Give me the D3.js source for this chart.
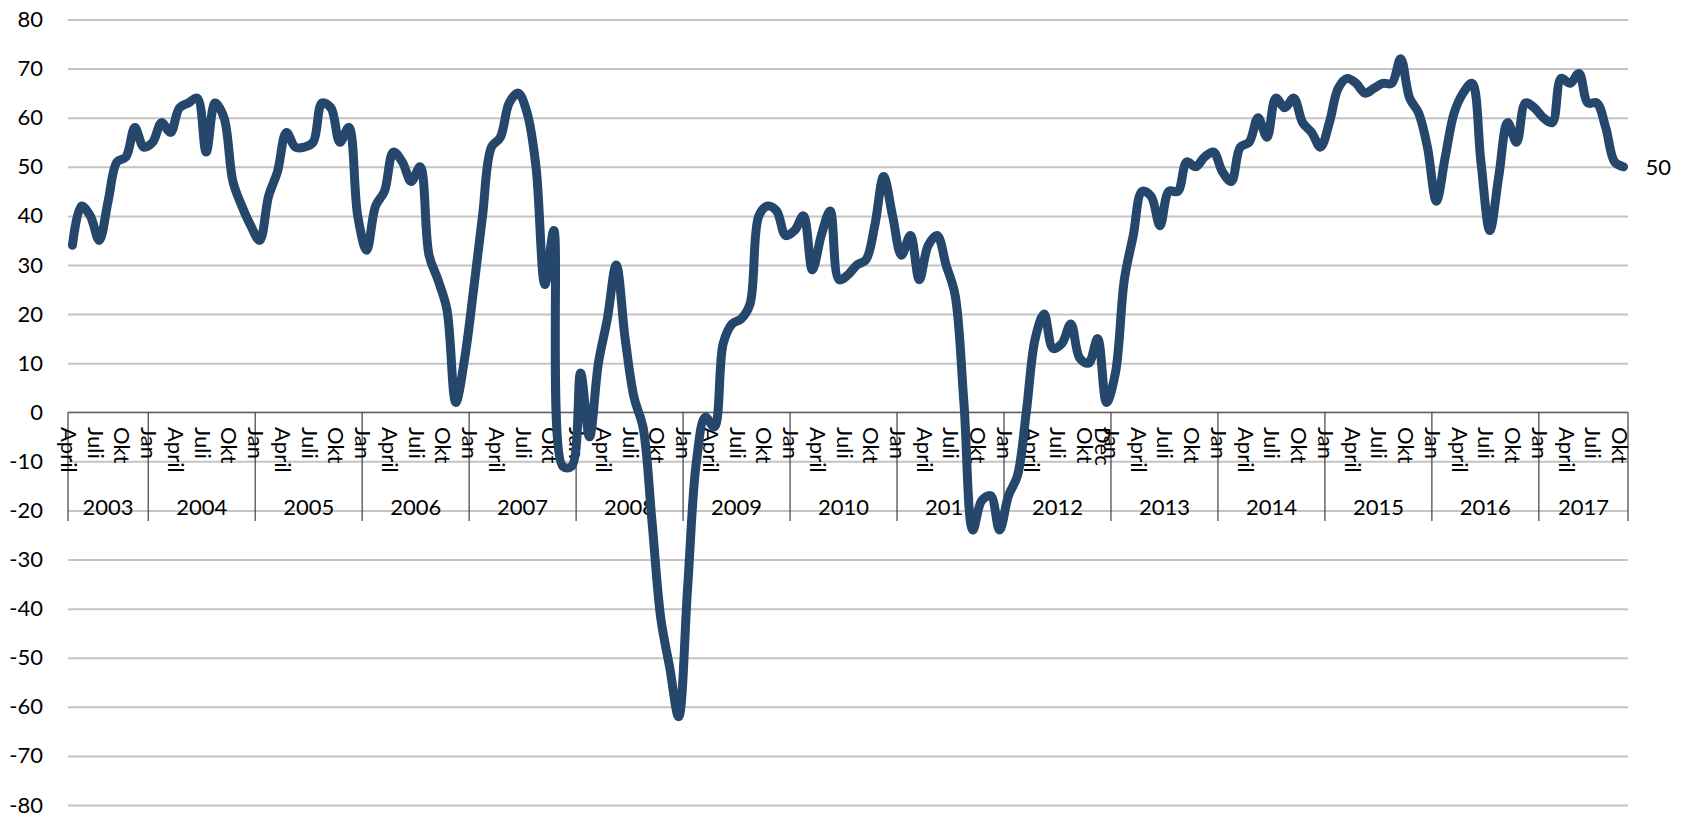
<!DOCTYPE html>
<html>
<head>
<meta charset="utf-8">
<title>Indicator 2003-2017</title>
<script src="https://cdn.jsdelivr.net/npm/d3@7/dist/d3.min.js"></script>
<style>
  html, body { margin: 0; padding: 0; background: #fff; }
  svg { display: block; }
  text { font-family: "Gill Sans", Lato, "DejaVu Sans", sans-serif; fill: #000; }
</style>
</head>
<body>
<script>
// ========== Chart data ==========
// Years on the category axis and how many months each one has.
var years = [2003, 2004, 2005, 2006, 2007, 2008, 2009, 2010, 2011, 2012, 2013, 2014, 2015, 2016, 2017];
var firstMonth = 3;   // April 2003 (0 = Jan)
var lastMonth = 9;    // Okt 2017
// Labels shown on the month row (by month number), plus the odd "Dec" in 2012.
var monthLabels = {0: "Jan", 3: "April", 6: "Juli", 9: "Okt"};
var extraLabels = [{year: 2012, month: 11, label: "Dec"}];
// Monthly values, April 2003 .. Okt 2017.
var values = [
  34, 42, 40, 35, 43, 51, 52, 58, 54,                     // 2003
  55, 59, 57, 62, 63, 64, 53, 63, 60, 47, 42, 38,         // 2004
  35, 44, 49, 57, 54, 54, 55, 63, 62, 55, 58, 40,         // 2005
  33, 42, 45, 53, 51, 47, 50, 32, 27, 21, 2, 11,          // 2006
  25, 40, 54, 56, 63, 65, 61, 50, 26, 37, -11, -11,       // 2007
  8, -5, 10, 19, 30, 15, 3, -3, -22, -42, -52, -62,       // 2008
  -36, -10, -1, -3, 14, 18, 19, 22, 40, 42, 41, 36,       // 2009
  37, 40, 29, 36, 41, 27, 28, 30, 31, 38, 48, 40,         // 2010
  32, 36, 27, 34, 36, 30, 24, 2, -24, -18, -17, -24,      // 2011
  -17, -13, 0, 15, 20, 13, 14, 18, 11, 10, 15, 2,         // 2012
  8, 27, 36, 45, 44, 38, 45, 45, 51, 50, 52, 53,          // 2013
  49, 47, 54, 55, 60, 56, 64, 62, 64, 59, 57, 54,         // 2014
  59, 66, 68, 67, 65, 66, 67, 67, 72, 64, 61, 54,         // 2015
  43, 52, 61, 65, 67, 51, 37, 48, 59, 55, 63, 62,         // 2016
  60, 59, 68, 67, 69, 63, 63, 58, 51, 50                  // 2017
];
var yTicks = d3.range(-80, 81, 10);
// ================================

var width = 1686, height = 818;
var margin = {left: 68, right: 58};
var plotWidth = width - margin.left - margin.right;

// Build the list of categories (one per month).
var categories = [];
years.forEach(function(yr, k) {
  var m0 = (k == 0) ? firstMonth : 0;
  var m1 = (k == years.length - 1) ? lastMonth : 11;
  for (var m = m0; m <= m1; m++)
  {
    var label = monthLabels[m] || "";
    extraLabels.forEach(function(e) { if (e.year == yr && e.month == m) label = e.label; });
    categories.push({year: yr, month: m, label: label, index: categories.length});
  }
});

var x = d3.scaleBand()
  .domain(categories.map(function(c) { return c.index; }))
  .range([margin.left, margin.left + plotWidth])
  .padding(0);
var y = d3.scaleLinear().domain([-80, 80]).range([805, 19.5]);

var svg = d3.select("body").append("svg")
  .attr("width", width)
  .attr("height", height);

// Gridlines and value labels.
var yAxis = svg.append("g")
  .attr("transform", "translate(" + margin.left + ",0)")
  .call(d3.axisLeft(y)
    .tickValues(yTicks)
    .tickSizeInner(-plotWidth)
    .tickSizeOuter(0)
    .tickPadding(25)
    .tickFormat(function(d) { return String(d); }));
yAxis.select(".domain").remove();
yAxis.selectAll("line").attr("stroke", "#c4c4c4").attr("stroke-width", 2);
yAxis.selectAll("text").style("font-size", "22px");

// Category axis at zero.
var y0 = y(0);
var sepBottom = 521;
svg.append("line")
  .attr("x1", margin.left).attr("x2", margin.left + plotWidth)
  .attr("y1", y0).attr("y2", y0)
  .attr("stroke", "#404040").attr("stroke-width", 1.2);

// Year groups: separators and labels.
var groups = years.map(function(yr) {
  var cats = categories.filter(function(c) { return c.year == yr; });
  var start = x(cats[0].index);
  var end = x(cats[cats.length - 1].index) + x.bandwidth();
  return {year: yr, start: start, end: end};
});
var bounds = groups.map(function(g) { return g.start; });
bounds.push(groups[groups.length - 1].end);

svg.selectAll(".sep")
  .data(bounds)
  .enter().append("line")
  .attr("class", "sep")
  .attr("x1", function(d) { return d; })
  .attr("x2", function(d) { return d; })
  .attr("y1", y0).attr("y2", sepBottom)
  .attr("stroke", "#404040").attr("stroke-width", 1.2);

svg.selectAll(".year")
  .data(groups)
  .enter().append("text")
  .attr("class", "year")
  .attr("x", function(d) { return (d.start + d.end) / 2; })
  .attr("y", 506)
  .attr("text-anchor", "middle")
  .attr("dominant-baseline", "central")
  .style("font-size", "22px")
  .text(function(d) { return d.year; });

// Month labels, rotated to read top to bottom.
svg.selectAll(".month")
  .data(categories.filter(function(c) { return c.label != ""; }))
  .enter().append("text")
  .attr("class", "month")
  .attr("transform", function(d) {
    var cx = x(d.index) + x.bandwidth() / 2 - 3;
    return "translate(" + cx + ",427) rotate(90)";
  })
  .attr("text-anchor", "start")
  .attr("dominant-baseline", "central")
  .style("font-size", "22px")
  .text(function(d) { return d.label; });

// The series line.
var line = d3.line()
  .x(function(d, i) { return x(i) + x.bandwidth() / 2; })
  .y(function(d) { return y(d); })
  .curve(d3.curveCatmullRom.alpha(0.5));

svg.append("path")
  .datum(values)
  .attr("fill", "none")
  .attr("stroke", "#24476b")
  .attr("stroke-width", 9)
  .attr("stroke-linecap", "round")
  .attr("stroke-linejoin", "round")
  .attr("d", line);

// Label for the last value.
var lastIdx = values.length - 1;
svg.append("text")
  .attr("x", x(lastIdx) + x.bandwidth() / 2 + 22)
  .attr("y", y(values[lastIdx]))
  .attr("dominant-baseline", "central")
  .style("font-size", "22px")
  .text(values[lastIdx]);
</script>
</body>
</html>
